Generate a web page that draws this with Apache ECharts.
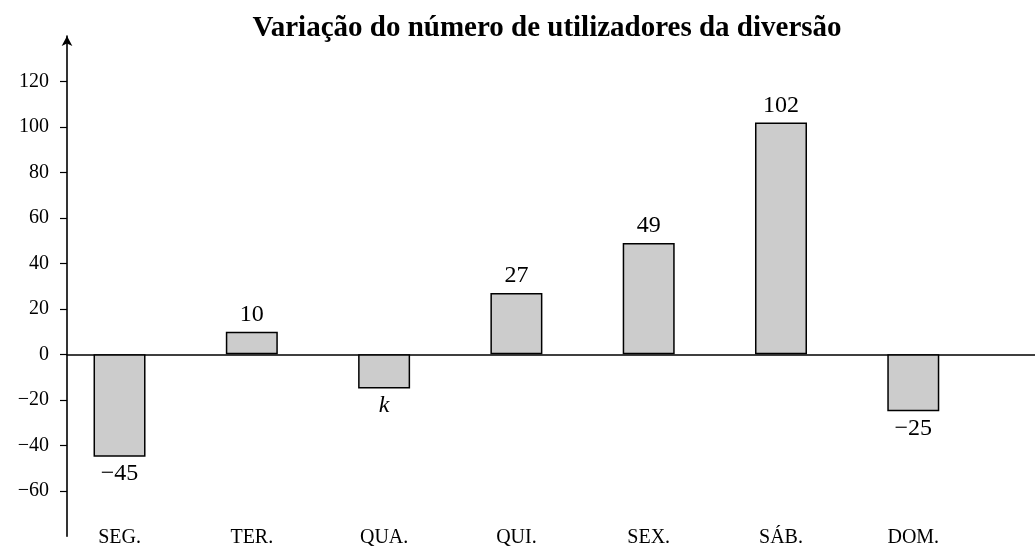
<!DOCTYPE html>
<html>
<head>
<meta charset="utf-8">
<script src="https://cdn.jsdelivr.net/npm/echarts@6/dist/echarts.min.js"></script>
<style>
	html, body { margin: 0; padding: 0; background: #fff; }
	#chart { width: 1035px; height: 547px; }
</style>
</head>
<body>
<div id="chart"></div>
<script>
// dias da semana e variação
let days = ['SEG.', 'TER.', 'QUA.', 'QUI.', 'SEX.', 'SÁB.', 'DOM.'];
let values = [-45, 10, -15, 27, 49, 102, -25];
let barLabels = ['−45', '10', 'k', '27', '49', '102', '−25'];
let yTicks = [-60, -40, -20, 0, 20, 40, 60, 80, 100, 120];
let dayIdx = [0, 1, 2, 3, 4, 5, 6];

let font = 'Liberation Serif';
let chart = echarts.init(document.getElementById('chart'));

let barData = [];
for (let i = 0; i < values.length; i++) {
	barData.push({
		value: [i, values[i]],
		label: {
			position: values[i] < 0 ? 'bottom' : 'top',
			fontStyle: barLabels[i] == 'k' ? 'italic' : 'normal'
		}
	});
}

let xMin = -0.397, xMax = 6.92;

let option = {
	animation: false,
	title: {
		text: 'Variação do número de utilizadores da diversão',
		left: 542,
		top: 9,
		textAlign: 'center',
		textStyle: {
			fontFamily: font,
			fontWeight: 'bold',
			fontSize: 29,
			color: '#000'
		}
	},
	grid: {
		left: 67,
		right: 0,
		top: 36,
		bottom: 10.7,
		outerBoundsMode: 'none',
		containLabel: false
	},
	xAxis: [{
		type: 'value',
		min: xMin,
		max: xMax,
		axisLine: {
			onZero: true,
			lineStyle: { color: '#000', width: 1.6 }
		},
		axisTick: { show: false },
		axisLabel: { show: false },
		splitLine: { show: false }
	}, {
		type: 'value',
		min: xMin,
		max: xMax,
		position: 'bottom',
		axisLine: { show: false, onZero: false },
		axisTick: { show: false },
		splitLine: { show: false },
		axisLabel: {
			customValues: dayIdx,
			margin: -9,
			fontFamily: font,
			fontSize: 20,
			color: '#000',
			formatter: function (v) {
				return days[Math.round(v)];
			}
		}
	}],
	yAxis: {
		type: 'value',
		min: -80,
		max: 140,
		interval: 20,
		axisLine: {
			show: true,
			onZero: false,
			symbol: ['none', 'arrow'],
			symbolSize: [8, 10],
			lineStyle: { color: '#000', width: 1.6 }
		},
		axisTick: {
			show: true,
			customValues: yTicks,
			length: 7,
			lineStyle: { color: '#000', width: 1.2 }
		},
		axisLabel: {
			customValues: yTicks,
			margin: 18,
			fontFamily: font,
			fontSize: 20,
			color: '#000',
			formatter: function (v) {
				return String(v).replace('-', '−');
			}
		},
		splitLine: { show: false }
	},
	series: [{
		type: 'bar',
		xAxisIndex: 0,
		barWidth: 52,
		data: barData,
		itemStyle: {
			color: '#cccccc',
			borderColor: '#000',
			borderWidth: 1.5
		},
		label: {
			show: true,
			distance: 5,
			fontFamily: font,
			fontSize: 24,
			color: '#000',
			formatter: function (p) {
				return barLabels[p.dataIndex];
			}
		}
	}]
};
chart.setOption(option);
</script>
</body>
</html>
